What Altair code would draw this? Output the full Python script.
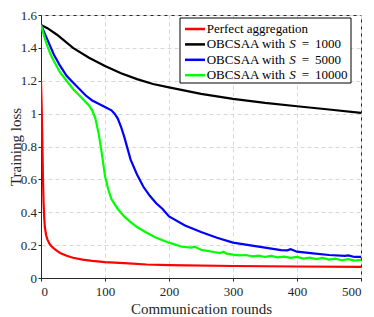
import altair as alt
import pandas as pd

names = ["Perfect aggregation", "OBCSAA with S = 1000", "OBCSAA with S = 5000", "OBCSAA with S = 10000"]
legend_prefix = ["Perfect aggregation", "OBCSAA with", "OBCSAA with", "OBCSAA with"]
legend_S = ["", "1000", "5000", "10000"]
colors = ["#ff0000", "#000000", "#0000ff", "#00ff00"]

red_x = [0, 1, 2, 3, 4, 5, 6, 8, 10, 13, 16, 20, 25, 30, 40, 50, 65, 80, 100, 130, 165, 200, 300, 400, 500]
red_y = [1.2, 1.05, 0.85, 0.62, 0.46, 0.37, 0.31, 0.26, 0.235, 0.21, 0.195, 0.18, 0.165, 0.152, 0.135, 0.123,
         0.112, 0.104, 0.097, 0.09, 0.082, 0.078, 0.073, 0.07, 0.068]

black_x = [0, 10, 25, 50, 75, 100, 125, 150, 175, 200, 250, 300, 350, 400, 450, 500]
black_y = [1.54, 1.52, 1.48, 1.40, 1.34, 1.29, 1.245, 1.21, 1.18, 1.16, 1.12, 1.09, 1.065, 1.045, 1.025, 1.005]

blue_x = [0, 10, 20, 30, 40, 50, 60, 70, 80, 90, 100, 110, 115, 120, 125, 130, 135, 140, 150, 160, 170, 180,
          190, 200, 225, 250, 275, 300, 325, 350, 375, 385, 390, 400, 425, 450, 475, 480, 490, 500]
blue_y = [1.54, 1.45, 1.36, 1.29, 1.23, 1.19, 1.15, 1.11, 1.08, 1.06, 1.04, 1.02, 1.0, 0.97, 0.92, 0.86, 0.79,
          0.72, 0.63, 0.555, 0.50, 0.455, 0.42, 0.375, 0.32, 0.28, 0.245, 0.215, 0.2, 0.185, 0.17, 0.168, 0.175,
          0.16, 0.15, 0.14, 0.135, 0.138, 0.128, 0.128]

green_x = [0, 5, 10, 15, 20, 30, 40, 50, 60, 70, 75, 80, 85, 90, 95, 100, 105, 110, 120, 130, 140, 150, 165,
           180, 200, 220, 235, 240, 250, 260, 270, 280, 285, 290, 300, 310, 320, 330, 340, 350, 360, 370, 380,
           390, 400, 410, 420, 430, 440, 450, 460, 470, 480, 490, 500]
green_y = [1.54, 1.47, 1.41, 1.36, 1.32, 1.25, 1.20, 1.15, 1.11, 1.07, 1.05, 1.02, 0.97, 0.88, 0.76, 0.62,
           0.54, 0.48, 0.42, 0.375, 0.34, 0.31, 0.275, 0.245, 0.215, 0.19, 0.185, 0.19, 0.172, 0.165, 0.158,
           0.152, 0.16, 0.148, 0.142, 0.138, 0.14, 0.132, 0.136, 0.128, 0.134, 0.125, 0.13, 0.122, 0.128, 0.118,
           0.124, 0.115, 0.122, 0.112, 0.118, 0.108, 0.115, 0.106, 0.11]

x_ticks = [0, 100, 200, 300, 400, 500]
y_ticks = [0, 0.2, 0.4, 0.6, 0.8, 1.0, 1.2, 1.4, 1.6]

rows = []
for name, xs, ys in zip(names, [red_x, black_x, blue_x, green_x], [red_y, black_y, blue_y, green_y]):
    for x, y in zip(xs, ys):
        rows.append({"series": name, "x": x, "y": y})
df = pd.DataFrame(rows)

FONT = "Liberation Serif"
W, H = 320, 263

lines = alt.Chart(df).mark_line(strokeWidth=2.2, clip=True).encode(
    x=alt.X("x:Q", scale=alt.Scale(domain=[0, 500], nice=False),
            axis=alt.Axis(values=x_ticks, title="Communication rounds", labelPadding=4,
                          titleX=160, titleY=35, titleBaseline="alphabetic", titleAlign="center")),
    y=alt.Y("y:Q", scale=alt.Scale(domain=[0, 1.6], nice=False),
            axis=alt.Axis(values=y_ticks, format="~g", title="Training loss", labelPadding=1.6,
                          titleX=-21, titleY=H / 2, titleAngle=270, titleBaseline="alphabetic",
                          titleAlign="center")),
    color=alt.Color("series:N", scale=alt.Scale(domain=names, range=colors), legend=None),
    order=alt.Order("x:Q"),
)

# hand-built legend (box, stroke samples, labels with italic S)
one = pd.DataFrame({"k": [0]})
LX0, LX1, LY0, LY1 = 139, 310, 3, 68
ROW0, ROWSTEP = 14, 15.4
SYM0, SYM1 = 144, 164
TX, SX, EQX, NX = 165.7, 248.3, 260.7, 274

layers = [lines]
layers.append(alt.Chart(one).mark_rect(fill="#ffffff", stroke="#000000", strokeWidth=1).encode(
    x=alt.value(LX0), x2=alt.value(LX1), y=alt.value(LY0), y2=alt.value(LY1)))
for i in range(len(names)):
    yy = ROW0 + i * ROWSTEP
    layers.append(alt.Chart(one).mark_rule(color=colors[i], strokeWidth=2.5).encode(
        x=alt.value(SYM0), x2=alt.value(SYM1), y=alt.value(yy)))
    layers.append(alt.Chart(one).mark_text(text=legend_prefix[i], align="left", baseline="middle",
                                           font=FONT, fontSize=13, color="#000000").encode(
        x=alt.value(TX), y=alt.value(yy)))
    if legend_S[i]:
        layers.append(alt.Chart(one).mark_text(text="S", align="left", baseline="middle", font=FONT,
                                               fontSize=13, fontStyle="italic", color="#000000").encode(
            x=alt.value(SX), y=alt.value(yy)))
        layers.append(alt.Chart(one).mark_text(text="=", align="left", baseline="middle", font=FONT,
                                               fontSize=13, color="#000000").encode(
            x=alt.value(EQX), y=alt.value(yy)))
        layers.append(alt.Chart(one).mark_text(text=legend_S[i], align="left", baseline="middle",
                                               font=FONT, fontSize=13, color="#000000").encode(
            x=alt.value(NX), y=alt.value(yy)))

chart = alt.layer(*layers).properties(
    width=W, height=H,
    autosize=alt.AutoSizeParams(type="none"),
    padding={"left": 33, "top": 7, "right": 5, "bottom": 38},
).configure_view(
    stroke="#262626", strokeWidth=1
).configure_axis(
    labelFont=FONT, titleFont=FONT, labelFontSize=13, titleFontSize=15,
    labelColor="#262626", titleColor="#262626", titleFontWeight="normal",
    domainColor="#262626", tickColor="#262626", tickSize=3,
    gridColor="#d8d8d8", gridDash=[4, 3], gridWidth=1,
)

chart.save("out.html", embed_options={"renderer": "svg", "actions": False})
